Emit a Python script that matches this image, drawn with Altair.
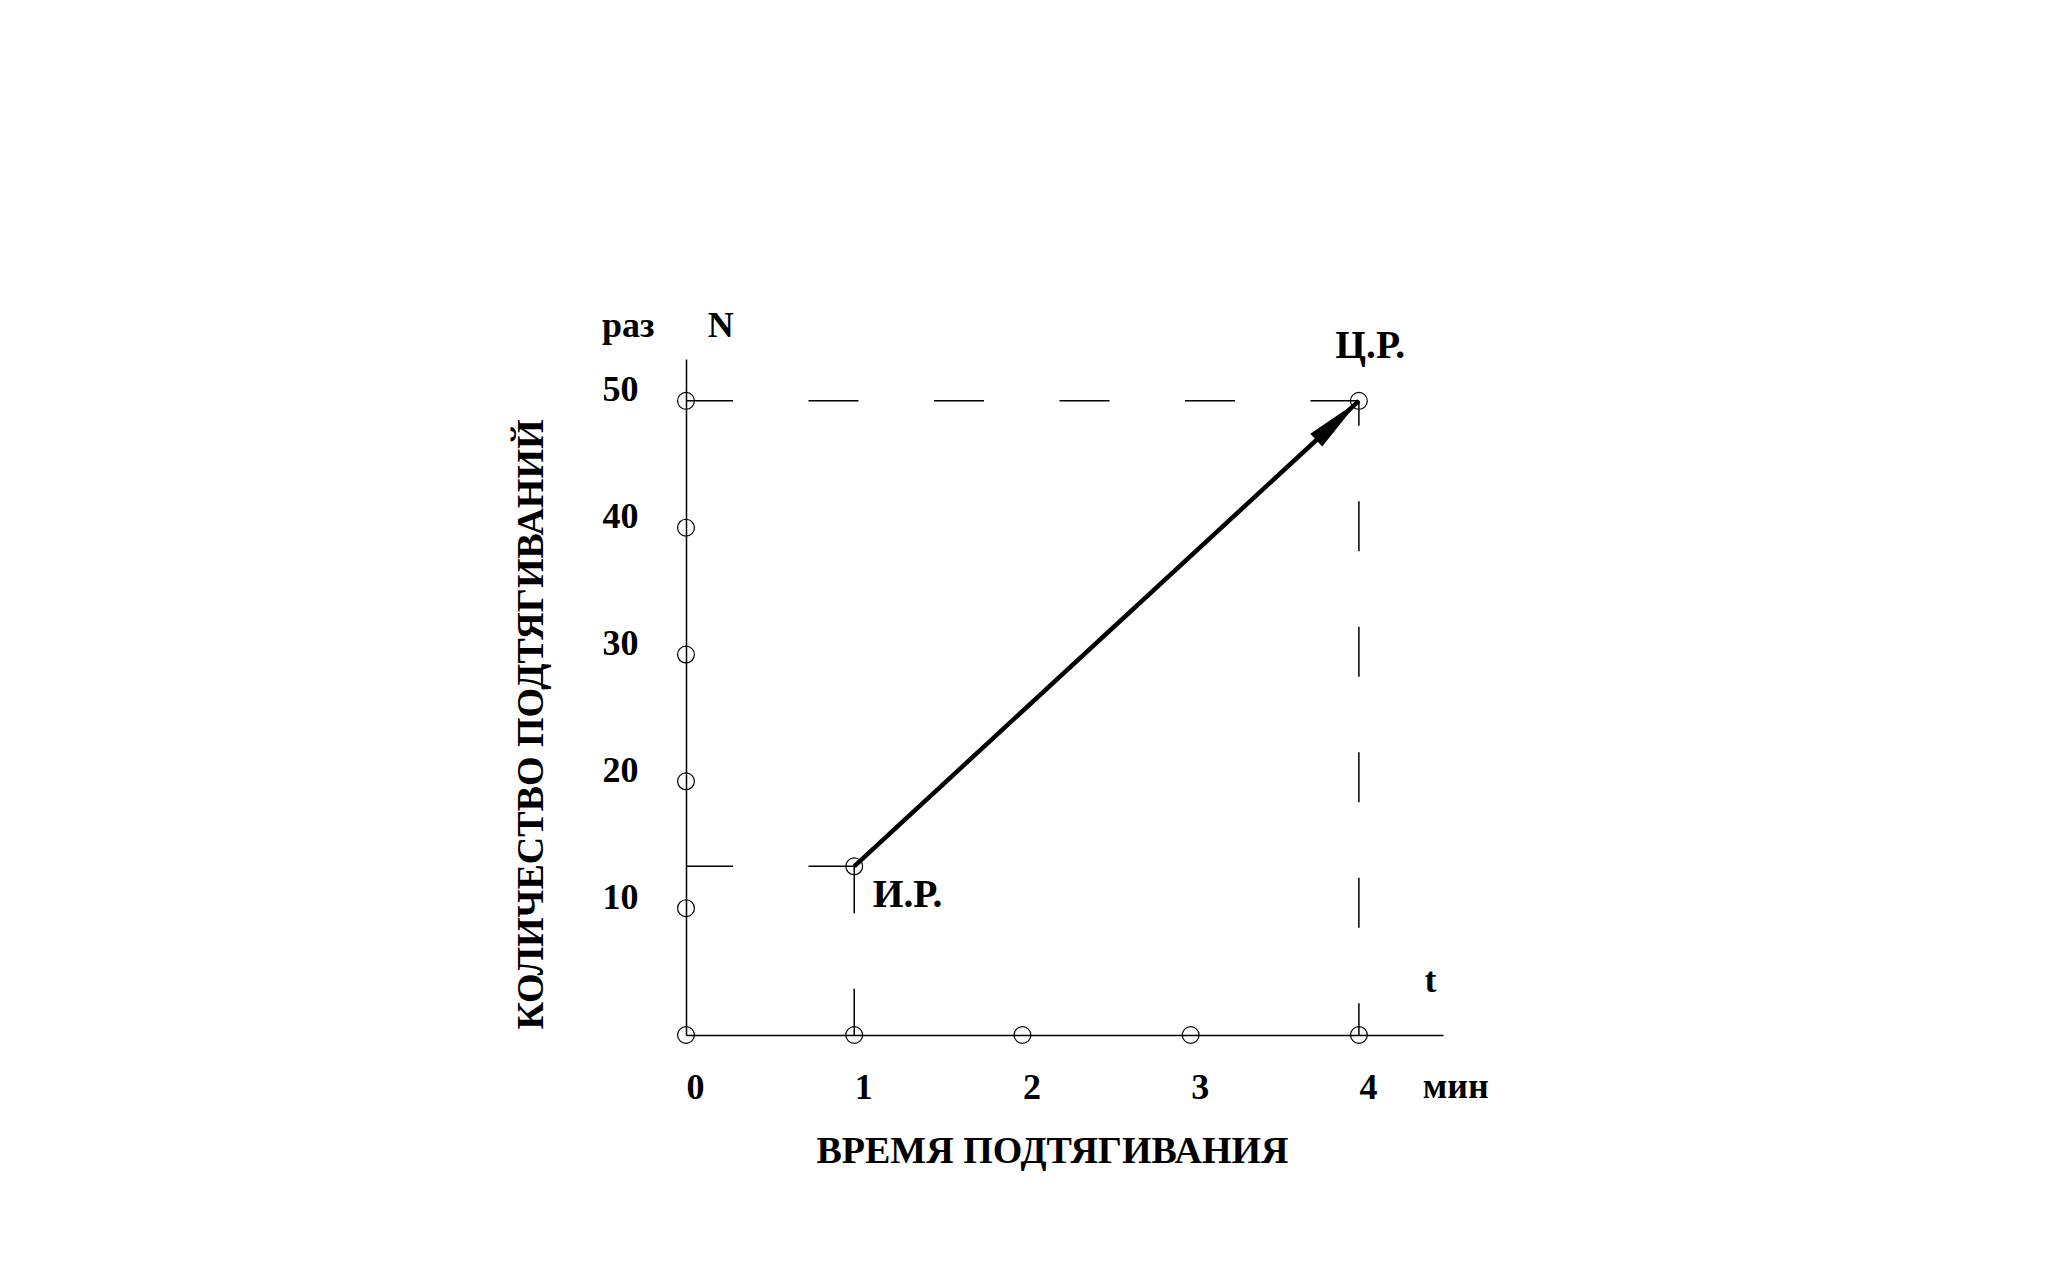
import math
import altair as alt
import pandas as pd

FONT = "Liberation Serif"

# ---- data ----
x_ticks = [0, 1, 2, 3, 4]          # время, мин
y_ticks = [10, 20, 30, 40, 50]     # N, раз
x_max = 4.5
y_max = 53.3

ir_t, ir_n = 1, 13.3               # И.Р.
cr_t, cr_n = 4, 50                 # Ц.Р.

ann_text = ["раз", "N", "t", "мин"]
ann_x = [-0.5, 0.13, 4.39, 4.38]
ann_y = [55.05, 55.05, 3.39, -4.97]

pt_text = ["Ц.Р.", "И.Р."]
pt_x = [3.86, 1.11]
pt_y = [53.4, 10.09]

W, H = 757, 676

# ---- tables ----
circles = pd.DataFrame({
    "t": x_ticks + [0] * len(y_ticks) + [ir_t, cr_t],
    "n": [0] * len(x_ticks) + y_ticks + [ir_n, cr_n],
})
dash_a = pd.DataFrame({
    "t": [0, ir_t, 0], "n": [ir_n, ir_n, cr_n],
    "t2": [ir_t, ir_t, cr_t], "n2": [ir_n, 0, cr_n],
})
dash_b = pd.DataFrame({"t": [cr_t], "n": [cr_n], "t2": [cr_t], "n2": [0]})
arrow = pd.DataFrame({"t": [ir_t], "n": [ir_n], "t2": [cr_t], "n2": [cr_n]})
head = pd.DataFrame({"t": [cr_t], "n": [cr_n]})
ann = pd.DataFrame({"t": ann_x, "n": ann_y, "label": ann_text})
pts_lab = pd.DataFrame({"t": pt_x, "n": pt_y, "label": pt_text})

dx = (cr_t - ir_t) * W / x_max
dy = (cr_n - ir_n) * H / y_max
head_angle = math.degrees(math.atan2(dx, dy))

xaxis = alt.Axis(
    values=x_ticks, format="d", title="ВРЕМЯ ПОДТЯГИВАНИЯ", grid=False,
    ticks=False, tickSize=0, domainColor="black", domainWidth=1.5,
    labelFont=FONT, labelFontSize=36, labelFontWeight="bold", labelColor="black",
    labelAlign="left", labelBaseline="alphabetic", labelPadding=63,
    labelFlush=False, labelOverlap=False,
    titleFont=FONT, titleFontSize=38, titleFontWeight="bold", titleColor="black",
    titleX=366, titleY=127, titleAlign="center", titleBaseline="alphabetic", titleAngle=0,
)
yaxis = alt.Axis(
    values=y_ticks, format="d", title="КОЛИЧЕСТВО ПОДТЯГИВАНИЙ", grid=False,
    ticks=False, tickSize=0, domainColor="black", domainWidth=1.5,
    labelFont=FONT, labelFontSize=36, labelFontWeight="bold", labelColor="black",
    labelAlign="right", labelBaseline="alphabetic", labelPadding=48,
    labelFlush=False, labelOverlap=False,
    titleFont=FONT, titleFontSize=38, titleFontWeight="bold", titleColor="black",
    titleX=-144, titleY=365, titleAlign="center", titleBaseline="alphabetic", titleAngle=270,
)
X = alt.X("t:Q", scale=alt.Scale(domain=[0, x_max], nice=False), axis=xaxis)
Y = alt.Y("n:Q", scale=alt.Scale(domain=[0, y_max], nice=False), axis=yaxis)

rules_a = alt.Chart(dash_a).mark_rule(
    color="black", strokeWidth=1.5, strokeDash=[50, 75.5], strokeDashOffset=3
).encode(x=X, y=Y, x2="t2:Q", y2="n2:Q")
rules_b = alt.Chart(dash_b).mark_rule(
    color="black", strokeWidth=1.5, strokeDash=[50, 75.5], strokeDashOffset=25
).encode(x=X, y=Y, x2="t2:Q", y2="n2:Q")
arrow_line = alt.Chart(arrow).mark_rule(color="black", strokeWidth=4.5).encode(
    x=X, y=Y, x2="t2:Q", y2="n2:Q")
pts = alt.Chart(circles).mark_point(
    shape="circle", size=283, filled=False, color="black", strokeWidth=1.2, opacity=1
).encode(x=X, y=Y)
arrow_head = alt.Chart(head).mark_point(
    shape="M0,0 L0.3,2 L-0.3,2 Z", size=3364, filled=True, color="black",
    strokeWidth=0, opacity=1, angle=head_angle
).encode(x=X, y=Y)
texts = alt.Chart(ann).mark_text(
    align="left", baseline="alphabetic", font=FONT, fontSize=36,
    fontWeight="bold", color="black"
).encode(x=X, y=Y, text="label:N")
pt_texts = alt.Chart(pts_lab).mark_text(
    align="left", baseline="alphabetic", font=FONT, fontSize=39.5,
    fontWeight="bold", color="black"
).encode(x=X, y=Y, text="label:N")

chart = alt.layer(rules_a, rules_b, arrow_line, pts, arrow_head, texts, pt_texts).properties(
    width=W, height=H,
    autosize=alt.AutoSizeParams(type="none"),
    padding={"left": 678, "top": 351, "right": 300, "bottom": 220},
).configure_view(strokeWidth=0)

chart.save("out.html", embed_options={"renderer": "svg", "actions": False})
